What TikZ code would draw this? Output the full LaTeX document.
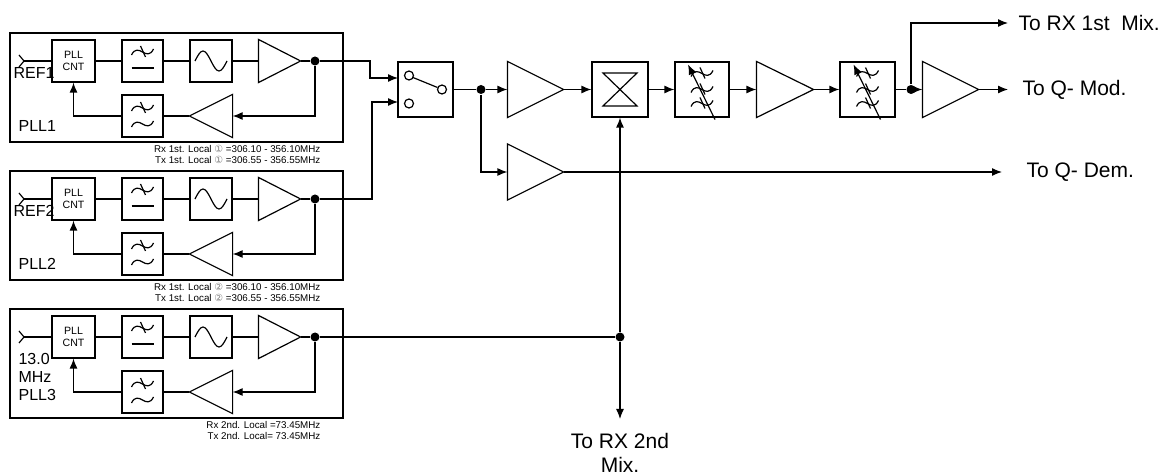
\documentclass[tikz,border=0pt]{standalone}
\usepackage{fontspec}
\setmainfont{Liberation Sans}
\newfontfamily\symfont{DejaVu Sans}
\usetikzlibrary{arrows.meta, positioning, calc}

\tikzset{
  blk/.style={draw, inner sep=0pt, minimum width=21pt, minimum height=21pt},
  bigblk/.style={draw, inner sep=0pt, minimum width=27.5pt, minimum height=27.5pt},
  ampn/.style={inner sep=0pt, minimum width=20.5pt, minimum height=21pt},
  bigamp/.style={inner sep=0pt, minimum width=27.5pt, minimum height=27.5pt},
  jdot/.style={circle, fill, inner sep=0pt, minimum size=4.5pt},
  plllab/.style={anchor=west, inner sep=0pt, font=\fontsize{8}{9.5}\selectfont},
  note/.style={anchor=east, inner sep=0pt, font=\fontsize{4.9}{5.5}\selectfont},
  outlab/.style={anchor=west, inner xsep=6pt, inner ysep=0pt, font=\fontsize{10.5}{12}\selectfont},
  lpwave/.pic={\draw (-11,3) .. controls (-4,-11) and (4,11) .. (11,-3);},
  lpxwave/.pic={\pic {lpwave}; \draw (-2,-6) -- (3,5);},
  lpfsym/.pic={\pic at (0,-9) {lpxwave}; \draw (-11,7) -- (11,7);},
  fbfsym/.pic={\pic at (0,-8) {lpxwave}; \pic at (0,8) {lpwave};},
  vcosym/.pic={\draw (-16,0) sin (-8,-10) cos (0,0) sin (8,10) cos (16,0);},
  tunesym/.pic={\foreach \v in {-16,0,14} \pic at (0,\v) {lpxwave};
    \draw[->] (13,30) -- (-14,-25);},
}

\begin{document}
\begin{tikzpicture}[x=0.5pt, y=-0.5pt, line width=0.6pt, >={Latex[length=5pt,width=4pt]}]
\useasboundingbox (0,0) rectangle (1175,476);

% the three PLL blocks
\foreach \i in {1,2,3} {
  \pgfmathsetmacro{\yo}{(\i-1)*138}
  \draw (10,33+\yo) rectangle (343,142+\yo);
  \coordinate (in\i) at (24,61+\yo);
  \node[blk, minimum width=21.5pt, align=center, font=\fontsize{5.3}{6}\selectfont] (cnt\i) at (73.5,61+\yo) {PLL\\CNT};
  \node[blk, minimum width=20.5pt] (lpf\i) at (142.5,61+\yo) {};
  \node[blk] (vco\i) at (211,61+\yo) {};
  \node[ampn] (amp\i) at (279.5,61+\yo) {};
  \node[jdot] (pd\i) at (315,61+\yo) {};
  \node[ampn, minimum width=21pt] (fba\i) at (211,116+\yo) {};
  \node[blk, minimum width=20.5pt] (fbf\i) at (142.5,116+\yo) {};
  \pic at (lpf\i) {lpfsym};
  \pic at (fbf\i) {fbfsym};
  \pic at (vco\i) {vcosym};
  \draw (amp\i.north west) -- (amp\i.east) -- (amp\i.south west) -- cycle;
  \draw (fba\i.north east) -- (fba\i.west) -- (fba\i.south east) -- cycle;
  \draw ([shift={(-5,-6)}]in\i) -- (in\i) -- ([shift={(-5,6)}]in\i);
  \draw (in\i) -- (cnt\i);
  \draw (cnt\i) -- (lpf\i) -- (vco\i) -- (amp\i.west);
  \draw (amp\i.east) -- (pd\i);
  \draw[->] (pd\i) |- (fba\i.east);
  \draw (fba\i.west) -- (fbf\i);
  \draw[->] (fbf\i) -| (cnt\i);
}

\foreach \i/\c in {1/①,2/②} {
  \pgfmathsetmacro{\yo}{(\i-1)*138}
  \node[plllab] (ref\i) at (13,73+\yo) {REF\i};
  \node[plllab] (pll\i) at (18,126+\yo) {PLL\i};
  \node[note] (rxn\i) at (321,149+\yo) {Rx 1st. Local {\symfont\color{gray}\c} =306.10 - 356.10MHz};
  \node[note] (txn\i) at (321,160+\yo) {Tx 1st. Local {\symfont\color{gray}\c} =306.55 - 356.55MHz};
}
\node[plllab] (ref3) at (18,359) {13.0};
\node[plllab] (mhz3) at (18,377) {MHz};
\node[plllab] (pll3) at (18,395) {PLL3};
\node[note] (rxn3) at (321,425) {Rx 2nd. Local =73.45MHz};
\node[note] (txn3) at (321,436) {Tx 2nd. Local= 73.45MHz};

% switch, mixer and output chain
\node[bigblk] (sw) at (425.5,89.5) {};
\coordinate (swa) at (398,78);
\coordinate (swb) at (398,102);
\draw ([shift={(-16.5,-14)}]sw.center) circle[radius=2.25pt];
\draw ([shift={(-16.5,14)}]sw.center) circle[radius=2.25pt];
\draw ([shift={(16.5,0)}]sw.center) circle[radius=2.25pt];
\draw ([shift={(-12.5,-12)}]sw.center) -- ([shift={(12,-2)}]sw.center);

\node[jdot] (j1) at (481,89.5) {};
\node[bigamp] (buf1) at (535.5,89.5) {};
\node[bigamp] (buf2) at (535.5,172) {};
\node[bigblk, minimum width=28pt] (mix) at (620,89.5) {};
\node[bigblk, minimum width=27pt] (tf1) at (702,89.5) {};
\node[bigamp, minimum width=28pt] (buf3) at (785,89.5) {};
\node[bigblk] (tf2) at (867.5,89.5) {};
\node[jdot] (j2) at (911,89.5) {};
\node[bigamp] (buf4) at (950.5,89.5) {};
\node[jdot] (j3) at (620,337) {};

\draw (mix.center) ++(-17,-16.5) -- ++(34,0) -- ++(-34,33) -- ++(34,0) -- cycle;
\pic at (tf1) {tunesym};
\pic at (tf2) {tunesym};
\foreach \a in {buf1,buf2,buf3,buf4}
  \draw (\a.north west) -- (\a.east) -- (\a.south west) -- cycle;

\node[outlab, inner xsep=5pt] (rx1) at (1008,23) {To RX 1st\ \ Mix.};
\node[outlab, inner xsep=7pt] (qmod) at (1008,89.5) {To Q- Mod.};
\node[outlab, inner xsep=12pt] (qdem) at (1002,172) {To Q- Dem.};
\node[outlab, anchor=north, align=center, inner xsep=0pt, inner ysep=7pt] (rx2) at (620,419) {To RX 2nd\\Mix.};

\draw[->] (pd1) -- ++(55,0) |- (swa);
\draw[->] (pd2) -- ++(57,0) |- (swb);
\draw (sw) -- (j1);
\draw[->] (j1) -- (buf1.west);
\draw[->] (j1) |- (buf2.west);
\draw[->] (buf1.east) -- (mix);
\draw[->] (mix) -- (tf1);
\draw[->] (tf1) -- (buf3.west);
\draw[->] (buf3.east) -- (tf2);
\draw (tf2) -- (j2);
\draw[->] (j2) -- (buf4.west);
\draw[->] (j2) |- (rx1.west);
\draw[->] (buf4.east) -- (qmod.west);
\draw[->] (buf2.east) -- (qdem.west);
\draw (pd3) -- (j3);
\draw[->] (j3) -- (mix);
\draw[->] (j3) -- (rx2);
\end{tikzpicture}
\end{document}
